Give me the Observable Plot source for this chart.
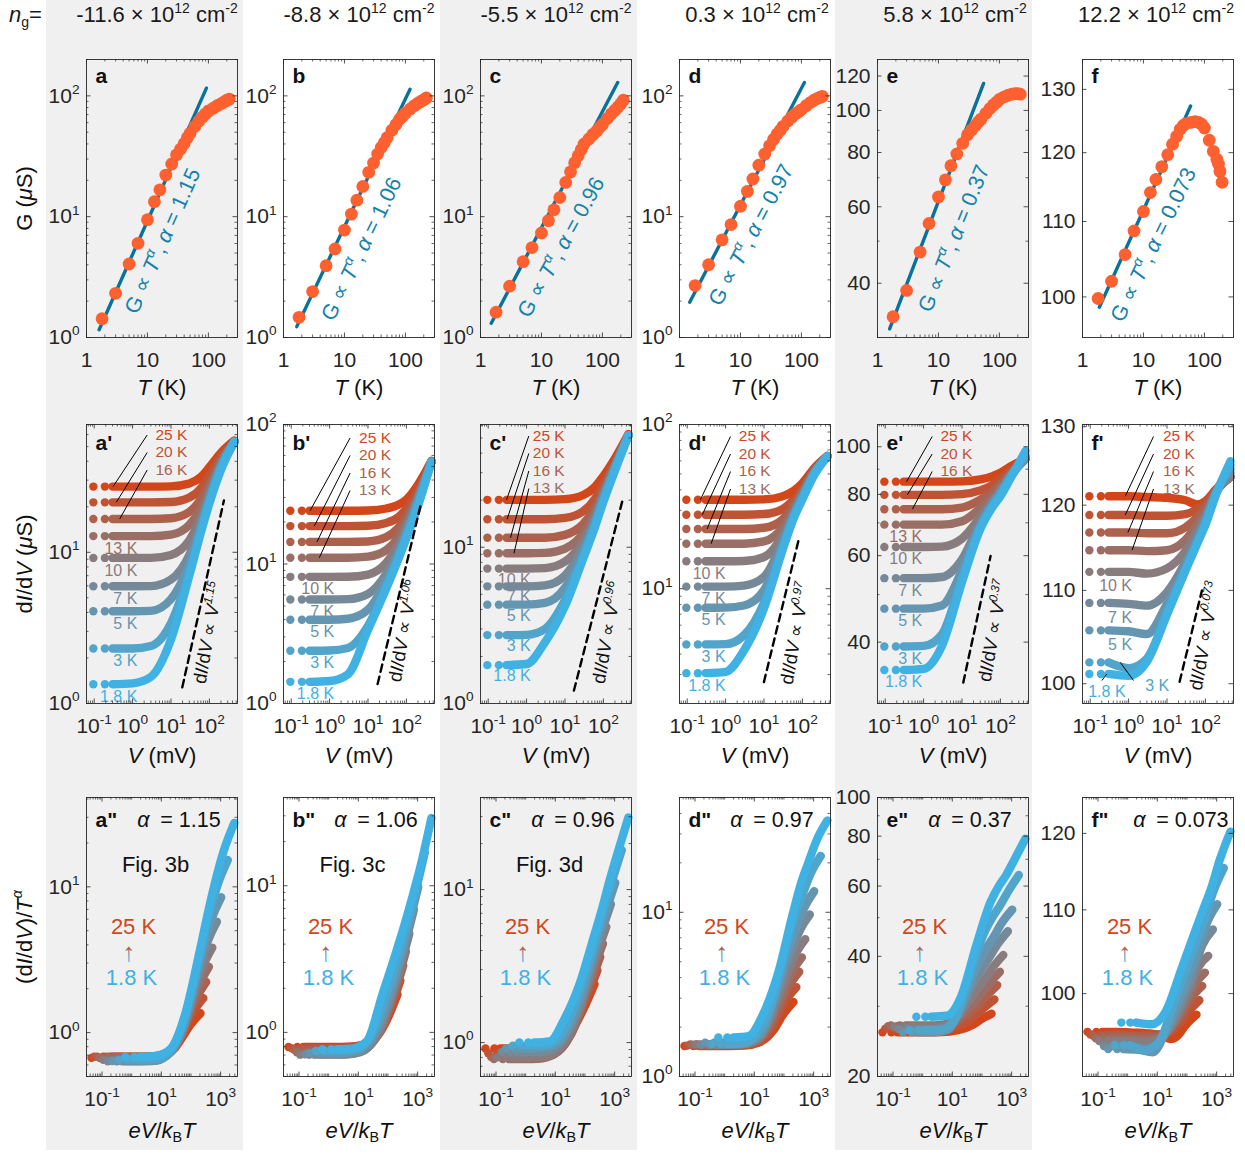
<!DOCTYPE html>
<html><head><meta charset="utf-8">
<script src="https://cdn.jsdelivr.net/npm/d3@7"></script>
<script src="https://cdn.jsdelivr.net/npm/@observablehq/plot@0.6"></script>
<style>
body{margin:0;background:#fff;font-family:"Liberation Sans",Arial,sans-serif;}
#fig{position:relative;width:1245px;height:1154px;overflow:hidden;background:#fff;}
.col{position:absolute;top:0;height:1150px;background:#f0f0f0;}
.hdr{position:absolute;top:2px;font-size:22px;color:#1a1a1a;white-space:nowrap;transform:translateX(-50%);line-height:26px;}
.hdr sup{font-size:14px;vertical-align:0;position:relative;top:-9px;}
.ng{position:absolute;left:9px;top:2px;font-size:22px;line-height:26px;color:#1a1a1a;}
.ng sub{font-size:14px;vertical-align:0;position:relative;top:5px;}
</style></head>
<body><div id="fig"></div>
<script>
// ---------------- DATA ----------------
const densities = ["-11.6","-8.8","-5.5","0.3","5.8","12.2"];
const panelIds = ["a","b","c","d","e","f"];
const alphas = [1.15,1.06,0.96,0.97,0.37,0.073];
const alphaText = ["1.15","1.06","0.96","0.97","0.37","0.073"];
const figRefs = ["Fig. 3b","Fig. 3c","Fig. 3d",null,null,null];

// Row 1: G(T)
const T_G = [1.8,3,5,7,10,13,16,20,25,30,35,40,45,50,60,70,80,90,100,120,140,160,180,200,220];
const G_a = [1.43,2.32,4.06,6.02,9.45,13.3,16.7,22.1,27.3,32.5,36.3,40.3,45,49,56,62,67,71,75,79,83,86,89,92,94];
const G_b = [1.47,2.40,3.93,5.4,7.75,10.5,13.7,17.8,23.3,27.8,33,37.4,41,45,52,58,64,68,72,78,83,87,90,93,96];
const G_c = [1.62,2.66,4.24,5.55,7.33,9.28,11.4,14.4,19.2,23.5,28,32,36,40,44,48,51,55,58,65,71,76,81,86,92];
const G_d = [2.69,4.0,6.43,8.6,12.2,16.2,20.5,26.7,33,38.6,43.8,48.4,52,56,62,67,71,74,77,83,88,92,95,97,99];
const G_e = [33.5,38.5,47.2,54.9,63.2,69.2,74.6,79.4,84,87.9,90.2,92.2,94,95.5,98.5,101,103,104.5,106,107.5,108.5,109,109.3,109.3,109];
const T_Gf = [1.8,3,5,7,10,13,16,20,25,30,35,40,45,50,60,70,80,90,100,120,140,160,170,180,195];
const G_f = [99.8,102.0,105.5,108.7,111.4,114.1,116.0,117.9,119.7,121.3,122.5,123.6,124.2,124.5,124.7,124.8,124.7,124.4,123.8,121.9,120.2,119.0,118.3,117.2,115.6];
// power-law fit endpoints (T, G)
const fitT = [[1.61,92.7],[1.65,119],[1.5,178],[1.47,112],[1.58,55],[1.89,59.3]];
const fitG = [[1.16,115.8],[1.23,113.6],[1.31,129],[1.96,129],[31.4,115.4],[98.7,127.3]];

// Row 2: dI/dV(V) per temperature
const T_iv = [1.8,3,5,7,10,13,16,20,25];
const V_iv = [0.095,0.19,0.3,1,3,10,30,60,100,200,450];
const dIdV_a = [
 [1.34,1.34,1.34,1.36,1.5,2.65,7.0,13.5,21,35,54],
 [2.31,2.31,2.31,2.31,2.4,3.4,7.4,14,22,36,54],
 [4.07,4.07,4.07,4.07,4.1,4.9,8.4,14.6,22.5,37,54],
 [5.96,5.96,5.96,5.96,5.97,6.6,9.6,15.3,23,37.5,54],
 [9.18,9.18,9.18,9.18,9.18,9.6,12.0,17,24.5,38.5,54],
 [12.8,12.8,12.8,12.8,12.8,13.1,15.2,19.5,26.5,39.5,54],
 [16.6,16.6,16.6,16.6,16.6,16.8,18.5,22.5,29,41,54],
 [21.4,21.4,21.4,21.4,21.4,21.5,23,26.5,32.5,43,54],
 [27.2,27.2,27.2,27.2,27.2,27.3,28.5,31.5,36.5,45.5,55]];
const dIdV_b = [
 [1.43,1.43,1.43,1.45,1.62,3.37,6.7,10.6,15.3,26,54],
 [2.39,2.39,2.39,2.4,2.5,3.6,6.9,10.9,15.8,27,54],
 [3.98,3.98,3.98,3.98,4.05,4.7,7.6,11.5,16.5,28,54],
 [5.57,5.57,5.57,5.57,5.6,6.1,8.5,12.2,17.2,28.5,54],
 [8.09,8.09,8.09,8.09,8.1,8.4,10.2,13.5,18.5,29.5,54],
 [11.1,11.1,11.1,11.1,11.1,11.3,12.6,15.4,20,30.5,54],
 [14.4,14.4,14.4,14.4,14.4,14.5,15.6,18,22,32,54],
 [18.7,18.7,18.7,18.7,18.7,18.8,19.7,21.5,25,34,54],
 [24.1,24.1,24.1,24.1,24.1,24.2,25,26.5,29,37,55]];
const dIdV_c = [
 [1.76,1.76,1.76,1.79,2.46,4.2,8.5,13.4,19.5,31,52],
 [2.74,2.74,2.74,2.75,3.0,4.6,8.8,13.8,20,31.5,52],
 [4.29,4.29,4.29,4.29,4.4,5.5,9.3,14.3,20.5,32,52],
 [5.62,5.62,5.62,5.62,5.7,6.6,10,14.8,21,32.5,52],
 [7.3,7.3,7.3,7.3,7.35,8.1,11,15.6,21.7,33,52],
 [9.15,9.15,9.15,9.15,9.2,9.8,12.3,16.6,22.5,33.5,52],
 [11.5,11.5,11.5,11.5,11.5,12,14.1,18,23.5,34,52],
 [15.1,15.1,15.1,15.1,15.1,15.4,17,20.3,25.5,35,52.5],
 [20.1,20.1,20.1,20.1,20.1,20.3,21.6,24.3,28.5,37,53]];
const dIdV_d = [
 [3.06,3.06,3.06,3.12,4.2,7.6,17,27,35,49,64],
 [4.58,4.58,4.58,4.6,5.2,8.2,17.5,27.5,35.5,49.5,64],
 [7.66,7.66,7.66,7.67,7.9,9.8,18.3,28,36,50,64],
 [10.3,10.3,10.3,10.3,10.45,11.8,19.2,28.5,36.5,50.5,64],
 [14.7,14.7,14.7,14.7,14.75,15.6,21,29.5,37.5,51,64],
 [18.8,18.8,18.8,18.8,18.8,19.4,23.5,31,38.5,51.5,64],
 [23.1,23.1,23.1,23.1,23.1,23.5,26.3,32.5,39.5,52,64],
 [28.2,28.2,28.2,28.2,28.2,28.5,30.5,35,41,53,64],
 [34.8,34.8,34.8,34.8,34.8,35,36.5,39.5,44,54,64.5]];
const dIdV_e = [
 [35.1,35.1,35.1,35.3,39.3,53,68,75,79.3,87.3,98],
 [39.2,39.2,39.2,39.3,41.5,54,68.5,75.5,80,87.5,96],
 [46.8,46.8,46.8,46.8,47.5,56,69,76,80.5,88,95],
 [54,54,54,54,54.3,59,70,76.5,81,88,95],
 [62.5,62.5,62.5,62.5,62.6,65,72,77.5,81.5,88,94.5],
 [69.4,69.4,69.4,69.4,69.4,70.5,75,79,83,88.5,94.5],
 [74.6,74.6,74.6,74.6,74.6,75.2,78,81,84,89,94.5],
 [79.8,79.8,79.8,79.8,79.8,80.1,81.5,83.5,86,90,94.5],
 [84.9,84.9,84.9,84.9,84.9,85,85.8,87,88.5,91.5,94.5]];
const dIdV_f = [
 [101,101,101,100.8,102.3,107.3,112.2,115.3,117.6,121.6,125.5],
 [102.2,102.2,102.2,101.6,102.6,107.5,112.3,115.4,117.8,121.7,125],
 [105.6,105.6,105.6,105.5,105.2,108.5,112.6,115.6,118,121.8,124.5],
 [108.6,108.6,108.6,108.5,108.3,109.8,113.2,116,118.3,121.8,124],
 [112.1,112.1,112.1,112.1,111.9,112.5,114.5,116.8,118.7,121.8,123.5],
 [114.6,114.6,114.6,114.6,114.5,114.6,115.8,117.6,119.2,121.8,123.5],
 [116.7,116.7,116.7,116.7,116.6,116.6,117.3,118.5,119.7,121.9,123.5],
 [118.8,118.8,118.8,118.8,118.7,118.7,118.9,119.5,120.3,122,123.5],
 [121.1,121.1,121.1,121.1,121,120.9,120.6,120.1,120.5,122.1,123.5]];
// power-law guide endpoints (V, dI/dV)
const guideV = [[19.7,239],[17.8,240],[17.1,322],[9.95,81],[10.8,55.6],[21.3,81.5]];
const guideG = [[1.28,22.0],[1.38,27],[1.21,20.4],[2.7,20.1],[33.1,59.9],[100.2,110]];

// axis ticks
const xTicks = [[1,10,100],[0.1,1,10,100],[0.1,10,1000]];
const yTicks1 = [[1,10,100],[1,10,100],[1,10,100],[1,10,100],[40,60,80,100,120],[100,110,120,130]];
const yTicks2 = [[1,10],[1,10,100],[1,10],[10,100],[40,60,80,100],[100,110,120,130]];
const yTicks3 = [[1,10],[1,10],[1,10],[1,10],[20,40,60,80,100],[100,110,120]];
const xDom = [[1,300],[0.063,540],[0.03,3700]];
const yDom1 = [[1,200],[1,200],[1,200],[1,200],[30,131],[95,135]];
const yDom2 = [[1,70],[1,100],[1,61],[2,100],[30,111],[98,130.3]];
const yDom3 = [[0.5,41],[0.5,40],[0.6,40],[1,50],[20,100],[91,125]];
const kB = 0.08617; // mV per K

// ---------------- STYLE / LAYOUT ----------------
const cBlue = "#3FB1E3", cOrange = "#D2461A";
const colorT = i => d3.interpolateRgb(cBlue, cOrange)(i / 8);
const cDot = "#FF6030", cFit = "#07729A", cFitText = "#1482AA", fc = "#262626";
const colLeft = [86,283,480,679,877,1082];
const FW = 151, rowTop = [59,424,797], FH = [278,279,279];
const mL = 80, mR = 12, mT = 22, mB = 72;
const FONT = "Liberation Sans, Arial, sans-serif";
const xLabels = ["<i>T</i> (K)", "<i>V</i> (mV)", "<i>eV</i>/<i>k</i><sub>B</sub><i>T</i>"];
const yLabels = ["G (<i>μ</i>S)", "d<i>I</i>/d<i>V</i> (<i>μ</i>S)", "(d<i>I</i>/d<i>V</i>)/<i>T</i><sup><i>α</i></sup>"];
const rot1 = [{T:17.8,G:6.3,r:-66},{T:19.1,G:5.4,r:-64},{T:21.1,G:5.58,r:-61},{T:15.0,G:7.07,r:-62},{T:18.0,G:50.7,r:-68},{T:14.6,G:106.8,r:-64}];
const guideText = [[95,2.94],[86,3.32],[129,2.84],[66.5,5.35],[66.5,42.2],[99.4,105.0]];
const ann2 = [
 {up:[25,20,16], ux:69, uy:[10.5,28,45.5], lx:60.7, lv:[0.31,0.376,0.46], low:[13,10,7,5,3,1.8], lowV:1.33, lowDy:12.5},
 {up:[25,20,16,13], ux:75.6, uy:[13.5,31,48.5,66], lx:66.6, lv:[0.31,0.40,0.47,0.54], low:[10,7,5,3,1.8], lowV:1.32, lowDy:12},
 {up:[25,20,16,13], ux:52.3, uy:[11.5,29,46.5,64], lx:48.3, lv:[0.30,0.31,0.38,0.47], low:[10,7,5,3,1.8], lowV:1.28, lowDy:11},
 {up:[25,20,16,13], ux:59.3, uy:[12,29.5,47,64.5], lx:51, lv:[0.22,0.247,0.33,0.42], low:[10,7,5,3,1.8], lowV:1.0, lowDy:12.5},
 {up:[25,20,16], ux:63, uy:[12,29.5,47], lx:54.7, lv:[0.36,0.376,0.51], low:[13,10,7,5,3,1.8], lowV:0.925, lowDy:12.3},
 {up:[25,20,16,13], ux:80.4, uy:[12,29.5,47,64.5], lx:71, lv:[0.82,0.82,0.96,1.23], low:[10,7,5], lowV:1.23, lowDy:14.5,
  special:[{T:3, tx:62.7, ty:261, px:51, py:256, V:0.61},{T:1.8, tx:5.7, ty:267.7, px:19.4, py:256, V:0.27}]}
];

// ---------------- HELPERS ----------------
const fig = document.getElementById("fig");
[[46,243],[440,637],[835,1032]].forEach(([a,b])=>{const d=document.createElement("div");d.className="col";d.style.left=a+"px";d.style.width=(b-a)+"px";fig.appendChild(d);});
const hdrX = [157,359,556,757,955,1156];
densities.forEach((s,i)=>{const d=document.createElement("div");d.className="hdr";d.style.left=hdrX[i]+"px";d.innerHTML=`${s} × 10<sup>12</sup> cm<sup>-2</sup>`;fig.appendChild(d);});
{const d=document.createElement("div");d.className="ng";d.innerHTML="<i>n</i><sub>g</sub>=";fig.appendChild(d);}

function fmtPow(d){ return `10<sup>${Math.round(Math.log10(d))}</sup>`; }
function logMinor([lo,hi], majors){
  const out=[];
  for(let k=Math.floor(Math.log10(lo)); k<=Math.ceil(Math.log10(hi)); k++){
    for(let m=1;m<=9;m++){
      const v=+(m*Math.pow(10,k)).toPrecision(6);
      if(v>=lo*0.9999 && v<=hi*1.0001 && !majors.some(t=>Math.abs(t-v)/v<1e-6)) out.push(v);
    }
  }
  return out;
}
function richify(root){
  root.querySelectorAll("text").forEach(t=>{
    const s=t.textContent; if(s.indexOf("<")<0) return;
    const fs=parseFloat(getComputedStyle(t).fontSize)||16;
    while(t.firstChild) t.removeChild(t.firstChild);
    const st={i:0,b:0,sup:0,sub:0}; let shift=0,last=0,m; const re=/<(\/?)(i|b|sup|sub)>/g;
    const emit=str=>{ if(!str) return;
      const ts=document.createElementNS("http://www.w3.org/2000/svg","tspan"); ts.textContent=str;
      const target= st.sup? -0.42*fs : st.sub? 0.22*fs : 0;
      if(Math.abs(target-shift)>1e-6){ ts.setAttribute("dy",(target-shift).toFixed(2)); shift=target; }
      if(st.sup||st.sub) ts.setAttribute("font-size",(0.65*fs).toFixed(1));
      if(st.i) ts.setAttribute("font-style","italic");
      if(st.b) ts.setAttribute("font-weight","bold");
      t.appendChild(ts); };
    while((m=re.exec(s))){ emit(s.slice(last,m.index)); st[m[2]]+= m[1]?-1:1; last=re.lastIndex; }
    emit(s.slice(last));
  });
}
function gradArrow(svg,id){
  svg.querySelectorAll("text").forEach(t=>{ if(t.textContent==="↑"){
    const ns="http://www.w3.org/2000/svg"; const defs=document.createElementNS(ns,"defs");
    defs.innerHTML=`<linearGradient id="${id}" x1="0" y1="0" x2="0" y2="1"><stop offset="0.25" stop-color="${cOrange}"/><stop offset="0.75" stop-color="${cBlue}"/></linearGradient>`;
    svg.insertBefore(defs, svg.firstChild); t.setAttribute("fill",`url(#${id})`); }});
}
const frameText = (s, o) => Plot.text([0], Object.assign({frameAnchor:"top-left", text:()=>s, lineAnchor:"middle", fill:"#111"}, o));

function buildPanel(row, col, dataMarks){
  const W=FW, H=FH[row];
  const xd=xDom[row], yd=[yDom1,yDom2,yDom3][row][col];
  const xt=xTicks[row], yt=[yTicks1,yTicks2,yTicks3][row][col];
  const xf= row===0 ? (d=>String(d)) : fmtPow;
  const yf= col>=4 ? (d=>String(d)) : fmtPow;
  const xm=logMinor(xd,xt), ym=logMinor(yd,yt);
  const marks=[...dataMarks,
    Plot.frame({stroke:fc, strokeWidth:0.9}),
    Plot.tickX(xt,{x:d=>d, stroke:fc, strokeWidth:0.8, insetTop:H-4.5}),
    Plot.tickX(xt,{x:d=>d, stroke:fc, strokeWidth:0.8, insetBottom:H-4.5}),
    Plot.tickX(xm,{x:d=>d, stroke:fc, strokeWidth:0.7, insetTop:H-2.5}),
    Plot.tickX(xm,{x:d=>d, stroke:fc, strokeWidth:0.7, insetBottom:H-2.5}),
    Plot.tickY(yt,{y:d=>d, stroke:fc, strokeWidth:0.8, insetRight:W-4.5}),
    Plot.tickY(yt,{y:d=>d, stroke:fc, strokeWidth:0.8, insetLeft:W-4.5}),
    Plot.tickY(ym,{y:d=>d, stroke:fc, strokeWidth:0.7, insetRight:W-2.5}),
    Plot.tickY(ym,{y:d=>d, stroke:fc, strokeWidth:0.7, insetLeft:W-2.5}),
    Plot.text([0],{frameAnchor:"bottom", dy:[50,52,54][row], text:()=>xLabels[row], fontSize:22, lineAnchor:"middle", fill:"#111"})
  ];
  if(col===0) marks.push(Plot.text([0],{frameAnchor:"left", dx:-62, rotate:-90, text:()=>yLabels[row], fontSize:22, lineAnchor:"middle", textAnchor:"middle", fill:"#111"}));
  const svg=Plot.plot({
    width:mL+W+mR, height:mT+H+mB, marginLeft:mL, marginRight:mR, marginTop:mT, marginBottom:mB,
    style:{background:"transparent", overflow:"visible", fontFamily:FONT, fontSize:"21px", color:fc},
    x:{type:"log", domain:xd, ticks:xt, tickFormat:xf, tickSize:0, tickPadding:14.5, label:null},
    y:{type:"log", domain:yd, ticks:yt, tickFormat:yf, tickSize:0, tickPadding:7, label:null},
    marks
  });
  svg.style.position="absolute";
  svg.style.left=(colLeft[col]-mL)+"px";
  svg.style.top=(rowTop[row]-mT)+"px";
  fig.appendChild(svg);
  richify(svg);
  gradArrow(svg,`ag${row}${col}`);
  return svg;
}

// ---------------- ROW 1 ----------------
const Gs=[G_a,G_b,G_c,G_d,G_e,G_f];
for(let c=0;c<6;c++){
  const Ts = c===5 ? T_Gf : T_G;
  const pts = Ts.map((t,i)=>({T:t, G:Gs[c][i]}));
  const fit = fitT[c].map((t,i)=>({T:t, G:fitG[c][i]}));
  const rt = rot1[c];
  buildPanel(0,c,[
    Plot.line(fit,{x:"T", y:"G", stroke:cFit, strokeWidth:3.4}),
    Plot.dot(pts,{x:"T", y:"G", r:6.4, fill:cDot}),
    Plot.text([rt],{x:"T", y:"G", rotate:rt.r, text:()=>`G ∝ <i>T</i><sup><i>α</i></sup>, <i>α</i> = ${alphaText[c]}`, fill:cFitText, fontSize:21.5, textAnchor:"middle", lineAnchor:"middle"}),
    frameText(panelIds[c],{dx:9, dy:17, fontWeight:"bold", fontSize:21})
  ]);
}

// ---------------- ROW 2 & 3 ----------------
const IVs=[dIdV_a,dIdV_b,dIdV_c,dIdV_d,dIdV_e,dIdV_f];
for(let c=0;c<6;c++){
  const data=IVs[c], A=ann2[c], W=FW, H=FH[1];
  const sx=Plot.scale({x:{type:"log", domain:xDom[1], range:[0,W]}});
  const sy=Plot.scale({y:{type:"log", domain:yDom2[c], range:[H,0]}});
  const m2=[];
  A.low.forEach(t=>{const i=T_iv.indexOf(t);
    m2.push(Plot.text([0],{x:()=>A.lowV, y:()=>data[i][0], dy:A.lowDy, text:()=>`${t} K`, textAnchor:"end", lineAnchor:"middle", fontSize:16, fill:colorT(i)}));});
  for(let i=8;i>=0;i--){
    const rows=V_iv.map((v,j)=>({V:v, G:data[i][j]}));
    m2.push(Plot.line(rows.slice(2),{x:"V", y:"G", stroke:colorT(i), strokeWidth:8.4, curve:"monotone-x", strokeLinecap:"round", strokeLinejoin:"round"}));
    m2.push(Plot.dot(rows.slice(0,2),{x:"V", y:"G", r:4.2, fill:colorT(i)}));
  }
  A.up.forEach((t,k)=>{const i=T_iv.indexOf(t);
    m2.push(frameText(`${t} K`,{dx:A.ux, dy:A.uy[k], fontSize:15.5, fill:colorT(i)}));
    m2.push(Plot.link([0],{x1:()=>A.lv[k], y1:()=>data[i][0], x2:()=>sx.invert(A.lx), y2:()=>sy.invert(A.uy[k]), stroke:"#000", strokeWidth:1}));});
  (A.special||[]).forEach(s=>{const i=T_iv.indexOf(s.T);
    m2.push(frameText(`${s.T} K`,{dx:s.tx, dy:s.ty, fontSize:16, fill:colorT(i)}));
    m2.push(Plot.link([0],{x1:()=>s.V, y1:()=>data[i][0], x2:()=>sx.invert(s.px), y2:()=>sy.invert(s.py), stroke:"#000", strokeWidth:1}));});
  const g=guideV[c].map((v,j)=>({V:v, G:guideG[c][j]}));
  m2.push(Plot.line(g,{x:"V", y:"G", stroke:"#000", strokeWidth:2.4, strokeDasharray:"7.5,5"}));
  m2.push(Plot.text([0],{x:()=>guideText[c][0], y:()=>guideText[c][1], rotate:-80, text:()=>`d<i>I</i>/d<i>V</i> ∝ <i>V</i><sup><i>${alphaText[c]}</i></sup>`, fontSize:18.5, fill:"#111", textAnchor:"middle", lineAnchor:"middle"}));
  m2.push(frameText(panelIds[c]+"'",{dx:9, dy:18.8, fontWeight:"bold", fontSize:21}));
  buildPanel(1,c,m2);

  const m3=[];
  for(let i=8;i>=0;i--){
    const T=T_iv[i], ta=Math.pow(T,alphas[c]);
    const rows=V_iv.map((v,j)=>({X:v/(kB*T), F:data[i][j]/ta}));
    m3.push(Plot.line(rows.slice(2),{x:"X", y:"F", stroke:colorT(i), strokeWidth:8.4, curve:"monotone-x", strokeLinecap:"round", strokeLinejoin:"round"}));
    m3.push(Plot.dot(rows.slice(0,2),{x:"X", y:"F", r:4.2, fill:colorT(i)}));
  }
  m3.push(frameText(panelIds[c]+'"',{dx:9, dy:22.8, fontWeight:"bold", fontSize:21}));
  m3.push(frameText(`<i>α</i>\u2002= ${alphaText[c]}`,{dx:50.7, dy:22.8, fontSize:21.5}));
  if(figRefs[c]) m3.push(frameText(figRefs[c],{dx:69, dy:67, fontSize:22, textAnchor:"middle"}));
  m3.push(frameText("25 K",{dx:47, dy:129.5, fontSize:22, textAnchor:"middle", fill:cOrange}));
  m3.push(frameText("↑",{dx:42.3, dy:155, fontSize:26, textAnchor:"middle", fill:"#888"}));
  m3.push(frameText("1.8 K",{dx:45, dy:180, fontSize:22, textAnchor:"middle", fill:cBlue}));
  buildPanel(2,c,m3);
}
</script>
</body></html>
